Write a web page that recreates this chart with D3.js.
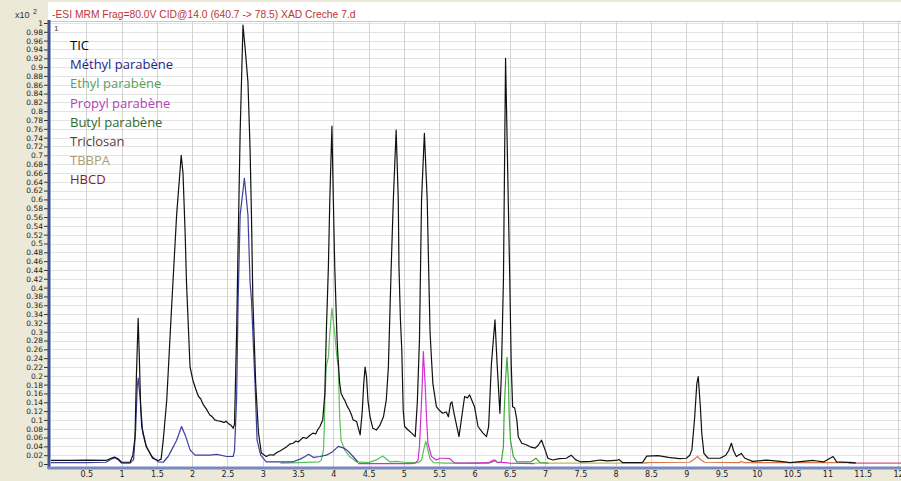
<!DOCTYPE html>
<html><head><meta charset="utf-8">
<script src="https://cdn.jsdelivr.net/npm/d3@7"></script>
<style>
html,body{margin:0;padding:0;background:#ECE9D8;}
svg{display:block;}
</style></head>
<body>
<script>
// ---------- DATA (time in min, abundance x10^2 counts) ----------
const titleText = "-ESI MRM Frag=80.0V CID@14.0 (640.7 -> 78.5) XAD Creche 7.d";
const xTicks = [0.5,1,1.5,2,2.5,3,3.5,4,4.5,5,5.5,6,6.5,7,7.5,8,8.5,9,9.5,10,10.5,11,11.5,12];
const yTicks = d3.range(0, 51).map(i => +(i*0.02).toFixed(2));
const legendNames = ["TIC","Méthyl parabène","Ethyl parabène","Propyl parabène","Butyl parabène","Triclosan","TBBPA","HBCD"];

const tic = [[0,0.008],[0.3,0.008],[0.5,0.009],[0.78,0.008],[0.85,0.013],[0.9,0.016],[0.95,0.012],[1.0,0.004],
 [1.12,0.004],[1.16,0.02],[1.19,0.06],[1.21,0.2],[1.235,0.33],[1.25,0.25],[1.27,0.13],[1.285,0.085],[1.35,0.04],
 [1.44,0.013],[1.52,0.008],[1.56,0.011],[1.59,0.054],[1.64,0.145],[1.71,0.36],[1.78,0.565],[1.845,0.70],[1.87,0.66],
 [1.9,0.526],[1.92,0.41],[1.93,0.372],[1.97,0.22],[2.01,0.19],[2.05,0.17],[2.09,0.153],[2.12,0.148],[2.16,0.134],
 [2.2,0.125],[2.25,0.111],[2.28,0.108],[2.32,0.10],[2.36,0.098],[2.42,0.096],[2.45,0.094],[2.48,0.097],[2.51,0.092],
 [2.55,0.088],[2.58,0.081],[2.6,0.09],[2.63,0.30],[2.65,0.49],[2.68,0.754],[2.72,0.995],[2.75,0.943],[2.79,0.867],
 [2.82,0.716],[2.84,0.565],[2.86,0.372],[2.9,0.183],[2.94,0.07],[2.98,0.025],[3.05,0.017],[3.1,0.021],[3.15,0.02],
 [3.2,0.026],[3.25,0.03],[3.3,0.035],[3.34,0.039],[3.38,0.045],[3.43,0.047],[3.47,0.052],[3.5,0.05],[3.53,0.054],
 [3.57,0.06],[3.62,0.058],[3.66,0.064],[3.71,0.07],[3.75,0.068],[3.78,0.078],[3.81,0.085],[3.85,0.10],[3.88,0.16],
 [3.9,0.296],[3.93,0.447],[3.95,0.599],[3.98,0.766],[4.0,0.599],[4.02,0.447],[4.05,0.296],[4.06,0.258],[4.09,0.183],
 [4.11,0.16],[4.14,0.15],[4.16,0.145],[4.2,0.13],[4.23,0.122],[4.26,0.11],[4.28,0.10],[4.31,0.098],[4.33,0.096],
 [4.38,0.066],[4.41,0.12],[4.43,0.18],[4.45,0.22],[4.47,0.198],[4.49,0.145],[4.52,0.107],[4.56,0.081],[4.61,0.077],
 [4.66,0.088],[4.71,0.107],[4.75,0.145],[4.78,0.22],[4.8,0.334],[4.82,0.447],[4.85,0.599],[4.89,0.757],[4.92,0.599],
 [4.93,0.447],[4.95,0.33],[4.97,0.258],[4.99,0.122],[5.01,0.085],[5.06,0.077],[5.11,0.07],[5.16,0.062],[5.19,0.14],
 [5.22,0.28],[5.25,0.6],[5.29,0.75],[5.33,0.6],[5.35,0.447],[5.37,0.3],[5.39,0.24],[5.41,0.183],[5.46,0.13],
 [5.5,0.122],[5.55,0.115],[5.6,0.118],[5.63,0.107],[5.66,0.137],[5.68,0.141],[5.71,0.115],[5.78,0.062],[5.86,0.153],
 [5.9,0.15],[5.93,0.157],[6.0,0.13],[6.05,0.085],[6.12,0.07],[6.17,0.062],[6.2,0.085],[6.24,0.228],[6.29,0.327],
 [6.32,0.228],[6.36,0.115],[6.38,0.2],[6.41,0.417],[6.44,0.92],[6.5,0.417],[6.52,0.228],[6.54,0.13],[6.57,0.127],
 [6.6,0.10],[6.62,0.062],[6.67,0.047],[6.74,0.043],[6.79,0.039],[6.86,0.036],[6.9,0.042],[6.95,0.054],[7.0,0.032],
 [7.04,0.013],[7.11,0.009],[7.2,0.012],[7.3,0.013],[7.37,0.02],[7.43,0.01],[7.5,0.005],[7.65,0.006],[7.78,0.009],
 [7.88,0.007],[8.0,0.008],[8.05,0.01],[8.1,0.003],[8.38,0.003],[8.44,0.018],[8.6,0.019],[8.75,0.015],[8.9,0.012],
 [9.0,0.013],[9.05,0.02],[9.08,0.032],[9.12,0.107],[9.15,0.183],[9.17,0.198],[9.2,0.13],[9.22,0.07],[9.25,0.024],
 [9.31,0.013],[9.48,0.013],[9.56,0.02],[9.6,0.03],[9.64,0.047],[9.67,0.03],[9.71,0.017],[9.78,0.024],[9.83,0.013],
 [9.94,0.006],[10.14,0.009],[10.33,0.006],[10.47,0.003],[10.8,0.008],[10.95,0.005],[11.08,0.017],[11.13,0.005],
 [11.37,0.003],[11.4,0.002]];

const methyl = [[0,0.003],[0.5,0.003],[0.78,0.004],[0.85,0.011],[0.9,0.014],[0.95,0.01],[1.0,0.002],[1.12,0.002],
 [1.17,0.01],[1.2,0.08],[1.22,0.17],[1.235,0.195],[1.25,0.17],[1.265,0.145],[1.3,0.07],[1.35,0.039],[1.43,0.017],
 [1.52,0.005],[1.59,0.004],[1.66,0.017],[1.71,0.032],[1.78,0.054],[1.85,0.085],[1.91,0.062],[1.97,0.032],[2.04,0.02],
 [2.25,0.02],[2.35,0.022],[2.49,0.017],[2.58,0.017],[2.6,0.03],[2.63,0.15],[2.65,0.36],[2.68,0.565],[2.74,0.648],
 [2.79,0.565],[2.82,0.413],[2.84,0.372],[2.89,0.183],[2.92,0.054],[2.97,0.02],[3.05,0.005],[3.25,0.005],[3.43,0.005],
 [3.53,0.011],[3.6,0.017],[3.65,0.022],[3.72,0.015],[3.81,0.017],[3.9,0.02],[3.99,0.028],[4.07,0.04],[4.15,0.036],
 [4.19,0.032],[4.28,0.017],[4.35,0.004]];

const ethyl = [[3.25,0.002],[3.5,0.003],[3.8,0.005],[3.83,0.009],[3.86,0.032],[3.87,0.07],[3.88,0.145],[3.9,0.22],
 [3.93,0.243],[3.95,0.296],[3.98,0.353],[4.02,0.296],[4.05,0.243],[4.07,0.22],[4.09,0.107],[4.11,0.054],[4.16,0.032],
 [4.23,0.017],[4.33,0.005],[4.5,0.003],[4.62,0.01],[4.7,0.018],[4.8,0.005],[4.9,0.006],[5.0,0.004],[5.1,0.003],
 [5.2,0.003],[5.25,0.009],[5.28,0.032],[5.31,0.051],[5.34,0.032],[5.37,0.012],[5.42,0.003],[5.6,0.002],[5.9,0.002]];

const propyl = [[4.35,0.001],[4.8,0.001],[5.1,0.001],[5.16,0.002],[5.2,0.009],[5.22,0.039],[5.24,0.107],[5.26,0.183],
 [5.275,0.255],[5.3,0.183],[5.32,0.107],[5.34,0.047],[5.39,0.017],[5.46,0.009],[5.51,0.013],[5.58,0.013],[5.65,0.012],
 [5.72,0.002],[6.0,0.002],[6.2,0.003],[6.27,0.009],[6.32,0.004],[6.43,0.003],[6.5,0.002],[6.85,0.001]];

const butyl = [[5.9,0.002],[6.2,0.002],[6.27,0.006],[6.29,0.009],[6.33,0.003],[6.38,0.005],[6.41,0.04],[6.42,0.115],
 [6.44,0.19],[6.46,0.242],[6.48,0.19],[6.49,0.115],[6.51,0.054],[6.55,0.017],[6.6,0.005],[6.8,0.005],[6.87,0.013],
 [6.93,0.003],[7.05,0.002]];

const tbbpa = [[6.85,0.002],[7.5,0.002],[8.0,0.002],[8.45,0.002]];
const triclosan = [[8.4,0.003],[9.05,0.004],[9.12,0.012],[9.16,0.017],[9.2,0.01],[9.26,0.004],[9.75,0.003],
 [9.78,0.006],[9.82,0.003],[11.4,0.003]];
const hbcd = [[11.3,0.002],[12.1,0.002]];

// ---------- LAYOUT ----------
const W = 901, H = 481;
const svg = d3.select("body").append("svg").attr("width", W).attr("height", H);
svg.append("rect").attr("width", W).attr("height", H).attr("fill", "#ECE9D8");
svg.append("rect").attr("x", 48).attr("y", 2).attr("width", W-48).attr("height", 466).attr("fill", "#ffffff");

const x = d3.scaleLinear().domain([0, 12]).range([51, 898]);
const y = d3.scaleLinear().domain([0, 1]).range([464, 23]);

// grid
svg.append("g").selectAll("line").data(yTicks.filter(d => d > 0)).join("line")
  .attr("x1", 50).attr("x2", W).attr("y1", d => Math.round(y(d)) + 0.5).attr("y2", d => Math.round(y(d)) + 0.5)
  .attr("stroke", "#e3e3e3").attr("stroke-width", 1);
svg.append("g").selectAll("line").data(xTicks).join("line")
  .attr("y1", 21).attr("y2", 467).attr("x1", d => Math.round(x(d)) + 0.5).attr("x2", d => Math.round(x(d)) + 0.5)
  .attr("stroke", "#d2d2d2").attr("stroke-width", 1);
svg.append("line").attr("x1", 48).attr("x2", W).attr("y1", 21.5).attr("y2", 21.5).attr("stroke", "#c8c8c8");

// axes
const yAxis = d3.axisLeft(y).tickValues(yTicks).tickSize(4).tickPadding(1).tickFormat(d => String(d));
const gy = svg.append("g").attr("transform", "translate(48,0)").call(yAxis);
gy.select(".domain").remove();
gy.selectAll("text").attr("font-family", "DejaVu Sans, sans-serif").attr("font-size", 7.5).attr("fill", "#222");
gy.selectAll("line").attr("stroke", "#333");

const xAxis = d3.axisBottom(x).tickValues(xTicks).tickSize(0).tickPadding(3).tickFormat(d => String(d));
const gx = svg.append("g").attr("transform", "translate(0,468)").call(xAxis);
gx.select(".domain").remove();
gx.selectAll("text").attr("font-family", "DejaVu Sans, sans-serif").attr("font-size", 8).attr("fill", "#222");

svg.append("line").attr("x1", 49).attr("x2", 49).attr("y1", 20).attr("y2", 469).attr("stroke", "#3f4f8f").attr("stroke-width", 3);
svg.append("line").attr("x1", 48).attr("x2", W).attr("y1", 468).attr("y2", 468).attr("stroke", "#7a88c0").attr("stroke-width", 3);

// header texts
svg.append("text").attr("x", 15).attr("y", 18).attr("font-family", "Liberation Sans, Arial, sans-serif")
  .attr("font-size", 9).attr("fill", "#333").text("x10");
svg.append("text").attr("x", 33).attr("y", 14).attr("font-family", "Liberation Sans, Arial, sans-serif")
  .attr("font-size", 7).attr("fill", "#333").text("2");
svg.append("text").attr("x", 52).attr("y", 18).attr("font-family", "Liberation Sans, Arial, sans-serif")
  .attr("font-size", 10.3).attr("fill", "#c03434").text(titleText);
svg.append("text").attr("x", 54).attr("y", 31).attr("font-family", "Liberation Sans, Arial, sans-serif")
  .attr("font-size", 8).attr("fill", "#444").text("1");
svg.append("text").attr("x", 400).attr("y", 489).attr("font-family", "Liberation Sans, Arial, sans-serif")
  .attr("font-size", 10).attr("fill", "#333").text("Counts vs. Acquisition Time (min)");

// traces
const line = d3.line().x(d => x(d[0])).y(d => y(d[1]));
const traces = [
  {d: hbcd, c: "#e0507a"}, {d: triclosan, c: "#d8784a"}, {d: tbbpa, c: "#c0b860"},
  {d: ethyl, c: "#58c058"}, {d: butyl, c: "#3da83d"}, {d: propyl, c: "#d22fd2"},
  {d: methyl, c: "#3c3f9c"}, {d: tic, c: "#111111"}
];
svg.append("g").selectAll("path").data(traces).join("path")
  .attr("d", t => line(t.d)).attr("fill", "none").attr("stroke", t => t.c)
  .attr("stroke-width", 1.2).attr("stroke-linejoin", "round");

// legend
const legendColors = ["#000000","#1f1f8a","#5a9e5a","#b540b5","#2e6a2e","#5e3a35","#aaa070","#8a1c2a"];
svg.append("g").selectAll("text").data(legendNames).join("text")
  .attr("x", 70).attr("y", (d, i) => 50 + i * 19.2)
  .attr("font-family", "Open Sans, sans-serif").attr("font-size", 13)
  .attr("fill", (d, i) => legendColors[i]).text(d => d);
</script>
</body></html>
